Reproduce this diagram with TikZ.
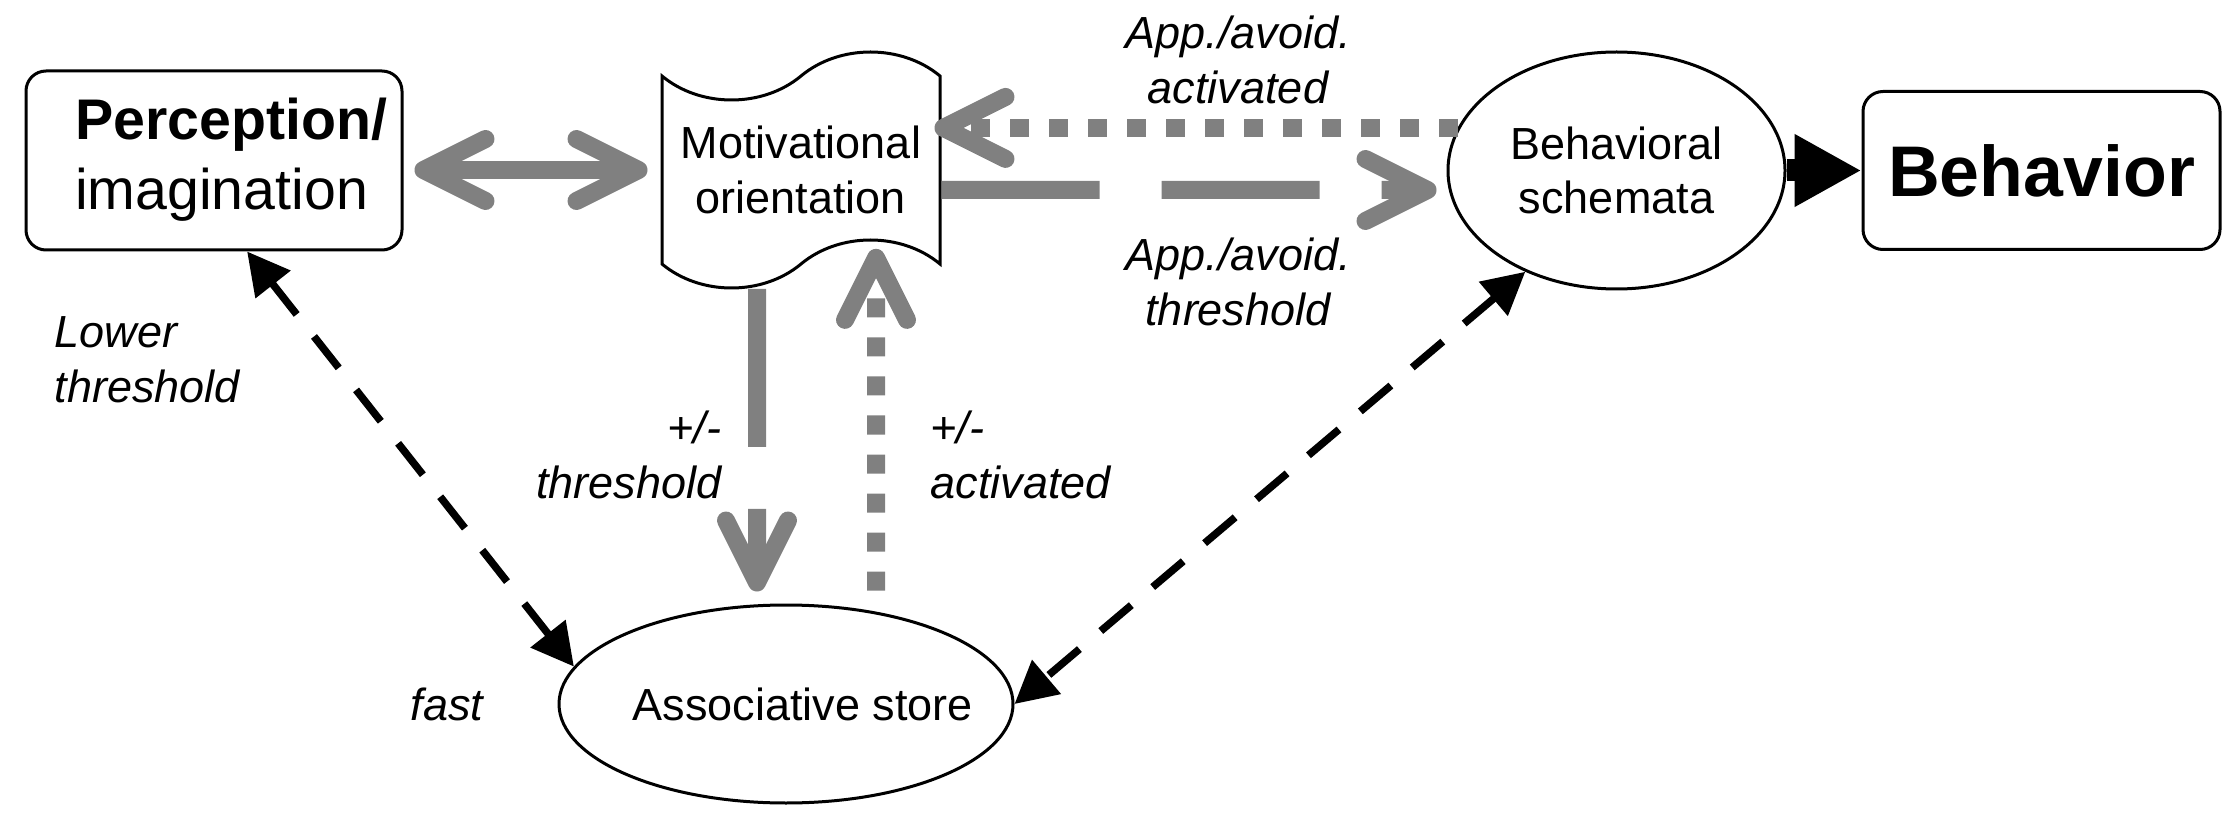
\documentclass[tikz,border=0pt]{standalone}
\usepackage{fontspec}
\setmainfont{Liberation Sans}
\usetikzlibrary{arrows.meta,shapes.geometric,shapes.symbols}

\begin{document}
\begin{tikzpicture}[scale=1]
\tikzstyle{box}= [draw, rounded corners=0.2cm, line width=0.03cm, align=center, inner sep=0pt]
\tikzstyle{ell}= [draw, ellipse, line width=0.03cm, align=center, inner sep=0pt, font=\fontsize{12.8}{15.6}\selectfont]
\tikzstyle{lbl}= [inner sep=0pt, font=\fontsize{12.8}{15.6}\selectfont\itshape]
\tikzstyle{gry}= [draw=gray, line width=0.18cm]
\tikzstyle{gdot}= [gry, dash pattern=on 0.19cm off 0.2cm]
\tikzstyle{gdash}= [gry, dash pattern=on 1.58cm off 0.62cm]
\tikzstyle{blk}= [line width=0.075cm, dash pattern=on 0.4cm off 0.28cm, tri-tri]
\tikzset{barb/.tip={Straight Barb[round,length=0.62cm,width=0.62cm]},
  tri/.tip={Triangle[length=0.42cm,width=0.43cm]}}
\useasboundingbox (0,0) rectangle (22.4,8.28);
%boxes
\node[box, minimum width=3.76cm, minimum height=1.79cm, text width=3.46cm, align=right, font=\fontsize{16.3}{19.9}\selectfont] (per) at (2.14,6.675) {\begin{tabular}{@{}l@{}}\textbf{Perception/}\\imagination\end{tabular}};
\node[draw, tape, line width=0.03cm, minimum width=2.78cm, minimum height=2.36cm, tape bend height=0.48cm, align=center, inner sep=0pt, font=\fontsize{12.8}{15.6}\selectfont] (mot) at (8.01,6.58) {Motivational\\orientation};
\node[ell, minimum width=3.37cm, minimum height=2.37cm] (beh) at (16.165,6.575) {Behavioral\\schemata};
\node[box, minimum width=3.57cm, minimum height=1.58cm, font=\fontsize{20.4}{24}\selectfont\bfseries] (bhv) at (20.415,6.575) {Behavior};
\node[ell, minimum width=4.54cm, minimum height=1.98cm, inner xsep=-0.32cm] (ass) at (7.86,1.24) {\hspace{0.34cm}Associative store};
%labels
\node[lbl, anchor=north, align=center] (act) at (12.38,8.13) {App./avoid.\\activated};
\node[lbl, anchor=north, align=center] (thr) at (12.38,5.91) {App./avoid.\\threshold};
\node[lbl, anchor=north west, align=left] (low) at (0.54,5.12) {Lower\\threshold};
\node[lbl, anchor=base west] (fst) at (4.10,1.08) {fast};
\node[lbl, anchor=north east, align=right] (pmt) at (7.22,4.18) {+/-\\threshold};
\node[lbl, anchor=north west, align=left] (pma) at (9.30,4.18) {+/-\\activated};
%gray
\draw[gry, barb-barb, shorten <=0.11cm, shorten >=0.13cm] (per.east |- mot.center) -- (mot.west);
\draw[gdot, -barb, shorten >=-0.07cm] (beh.165) -- (mot.east |- beh.165);
\draw[gdash, -barb, shorten >=0.1cm] ([yshift=-0.2cm]mot.east) -- ([yshift=-0.195cm]beh.west);
\draw[gdash, -barb, shorten >=0.12cm] ([shift={(-0.44,-0.23)}]mot.south) -- ([xshift=-0.29cm]ass.north);
\draw[gdot, -barb, shorten <=0.13cm] ([xshift=0.9cm]ass.north) -- ([shift={(0.75,0.17)}]mot.south);
%black
\draw[line width=0.22cm, -{Triangle[length=0.67cm,width=0.68cm]}] (beh.east) -- (bhv.west);
\draw[blk] (per.-70) -- (ass.170);
\draw[blk] (beh.228) -- (ass.east);
\end{tikzpicture}
\end{document}
